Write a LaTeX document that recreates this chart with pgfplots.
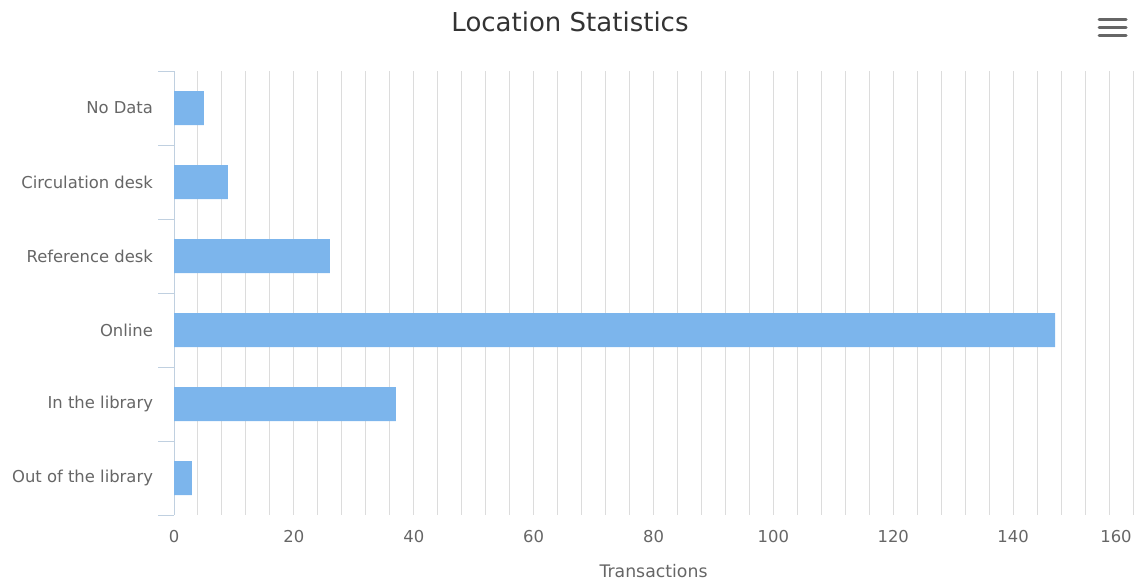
\documentclass[border=0pt]{standalone}
\usepackage{pgfplots}
\pgfplotsset{compat=1.18}
\usepackage{fontspec}
\setmainfont{DejaVu Sans}

\definecolor{barblue}{HTML}{7CB5EC}
\definecolor{titlecol}{HTML}{333333}
\definecolor{labelcol}{HTML}{666666}
\definecolor{axiscol}{HTML}{C0D0E0}
\definecolor{gridcol}{HTML}{DCDCDC}

\begin{document}
\begin{tikzpicture}[x=1pt,y=1pt]
  \path[use as bounding box] (0,0) rectangle (1142,586);

  % chart title
  \node[anchor=base, text=titlecol, font=\fontsize{26}{30}\selectfont]
    at (570,554) {Location Statistics};

  % menu button
  \foreach \yy in {566,558,550}
    \draw[labelcol, line width=3pt, line cap=round] (1099,\yy) -- (1126,\yy);

  \begin{axis}[
    at={(174pt,71pt)}, anchor=south west,
    scale only axis,
    width=959pt, height=444pt,
    xmin=0, xmax=160,
    ymin=-0.5, ymax=5.5,
    y dir=reverse,
    axis lines*=left,
    x axis line style={draw=none},
    y axis line style={draw=axiscol, line width=1pt},
    xtick={0,20,...,140},
    extra x ticks={160},
    extra x tick labels={160},
    extra x tick style={xticklabel style={xshift=-17pt}},
    minor xtick={0,4,...,160},
    xmajorgrids, xminorgrids,
    major grid style={draw=gridcol, line width=1pt},
    minor grid style={draw=gridcol, line width=1pt},
    ytick={0,1,2,3,4,5},
    yticklabels={No Data, Circulation desk, Reference desk, Online, In the library, Out of the library},
    minor ytick={-0.5,0.5,...,5.5},
    major tick length=0pt,
    minor tick length=16pt,
    tick align=outside,
    tickpos=left,
    xtick style={draw=none},
    minor x tick style={draw=none},
    ytick style={draw=none},
    minor y tick style={draw=axiscol, line width=1pt},
    /pgf/number format/assume math mode=true,
    ticklabel style={text=labelcol, font=\fontsize{16.4}{19}\selectfont},
    xticklabel shift=12pt,
    yticklabel shift=17.5pt,
    xlabel={Transactions},
    every axis x label/.style={at={(axis description cs:0.5,0)}, anchor=center,
      yshift=-56.5pt, text=labelcol, font=\fontsize{17.3}{20}\selectfont},
    clip=false,
  ]
    \addplot[xbar, bar width=34pt, fill=barblue, draw=none] coordinates {
      (5,0)
      (9,1)
      (26,2)
      (147,3)
      (37,4)
      (3,5)
    };
  \end{axis}
\end{tikzpicture}
\end{document}
